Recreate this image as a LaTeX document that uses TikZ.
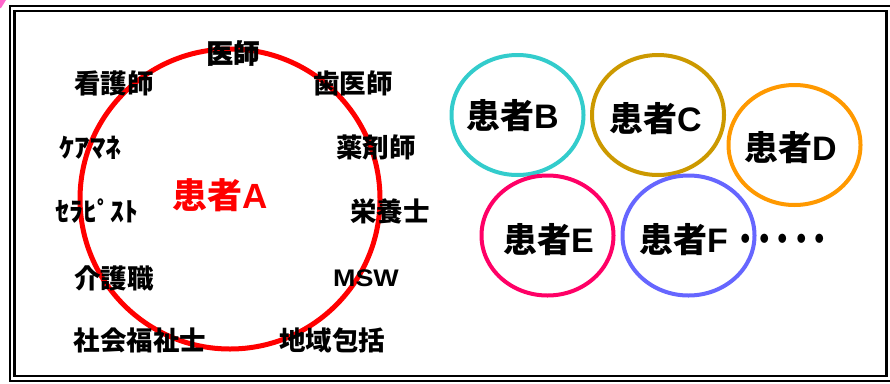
\documentclass[tikz,border=0pt]{standalone}
\usepackage{fontspec}
\usepackage{graphicx}
\newfontfamily\jp{Noto Sans CJK JP}
\newfontfamily\jpheavy{Noto Sans CJK JP}[BoldFeatures={FakeBold=1.6}]
\newfontfamily\lat{Liberation Sans}
\usetikzlibrary{shapes.geometric}
\definecolor{cB}{HTML}{33CCCC}
\definecolor{cC}{HTML}{CC9900}
\definecolor{cD}{HTML}{FF9900}
\definecolor{cE}{HTML}{FF0066}
\definecolor{cF}{HTML}{6666FF}
\definecolor{cPink}{HTML}{FF66CC}
\newcommand{\ltr}[1]{{\lat\bfseries #1}}
\newcommand{\hw}[2]{\scalebox{#1}[1]{#2}}
\begin{document}
\begin{tikzpicture}[x=1pt,y=-1pt,
  lbl/.style={font=\jp\bfseries\fontsize{26.5}{26.5}\selectfont, inner sep=0pt},
  pat/.style={font=\jp\bfseries\fontsize{34}{34}\selectfont, inner sep=0pt, anchor=base west},
  pc/.style={draw=#1, line width=4pt, ellipse, minimum width=132pt, minimum height=120pt, inner sep=0pt}
]
\useasboundingbox (0,0) rectangle (890,383);
\clip (0,0) rectangle (890,383);
\fill[white] (0,0) rectangle (890,383);
% corner mark
\fill[cPink] (0,0) -- (6,0) -- (1,8) -- (0,8) -- cycle;
% frame
\draw[line width=2pt] (10,6) rectangle (896,381);
\draw[line width=2.5pt] (14.7,11.2) rectangle (886.3,376);
% patient A
\node[circle, draw=red, line width=5pt, minimum size=300pt, inner sep=0pt] (ca) at (230,199) {};
\node[pat, text=red, font=\jp\bfseries\fontsize{35}{35}\selectfont] (pa) at (172,208) {患者\ltr{A}};
% labels
\node[lbl, font=\jpheavy\bfseries\fontsize{26.5}{26.5}\selectfont] (ishi) at (233,53) {医師};
\node[lbl] (kango) at (114,83) {看護師};
\node[lbl] (shika) at (353,83) {歯医師};
\node[lbl] (yaku) at (376,147) {薬剤師};
\node[lbl] (eiyo) at (390,211) {栄養士};
\node[lbl] (msw) at (366,278) {\hw{1.12}{\lat\bfseries\fontsize{24}{24}\selectfont MSW}};
\node[lbl] (chiiki) at (332,340) {地域包括};
\node[lbl] (cm) at (90,148) {\hw{1.16}{ｹｱﾏﾈ}};
\node[lbl] (th) at (97,211) {\hw{1.05}{ｾﾗﾋﾟｽﾄ}};
\node[lbl] (kaigo) at (114,278) {介護職};
\node[lbl] (sw) at (140,340) {社会福祉士};
% other patients
\node[pc=cB] (eB) at (517.5,115) {};
\node[pc=cC] (eC) at (658,115) {};
\node[pc=cD] (eD) at (794.5,145) {};
\node[pc=cE] (eE) at (547.5,235.5) {};
\node[pc=cF] (eF) at (688.5,235.5) {};
\node[pat] (pB) at (466,128) {患者\ltr{B}};
\node[pat] (pC) at (609,131) {患者\ltr{C}};
\node[pat] (pD) at (744,160) {患者\ltr{D}};
\node[pat] (pE) at (503,252) {患者\ltr{E}};
\node[pat] (pF) at (639,252) {患者\ltr{F}\hspace{9pt}\raisebox{-3pt}{\hw{0.84}{\fontsize{44}{44}\selectfont ･････}}};
\end{tikzpicture}
\end{document}
